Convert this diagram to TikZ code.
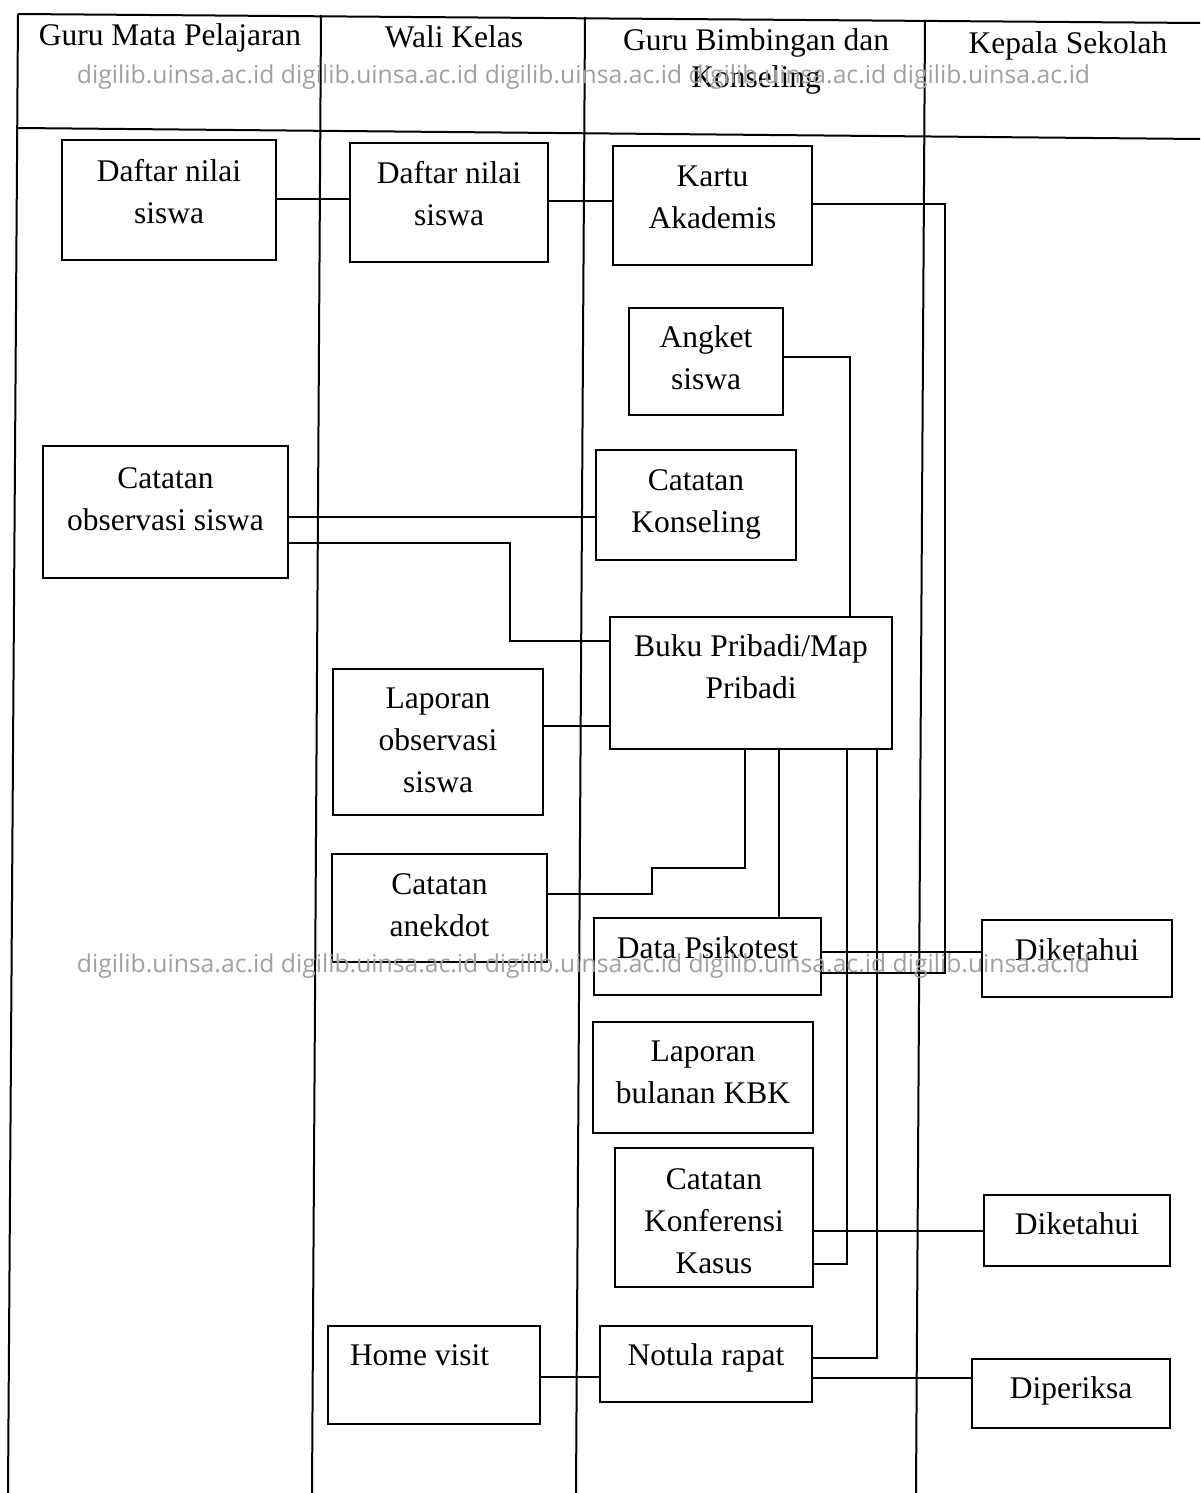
\documentclass[tikz,border=0pt]{standalone}
\usepackage{fontspec}
\setmainfont{Liberation Serif}
\newfontfamily\wmfont{Open Sans}
\definecolor{wmgray}{RGB}{160,160,160}
\tikzset{
%
  % For the lines of the lanes.
  lane/.style={
    line width=2pt},
%
  % For lines between boxes.
  link/.style={
    line width=2.2pt},
%
  % For boxes in general.
  box/.style={
    draw,
    line width=2.6pt,
    align=center,
    inner sep=0pt,
    text height=24pt,
    execute at begin node={\spaceskip=0.25em\relax}},
%
  % For the lane titles.
  head/.style={
    align=center,
    inner sep=0pt,
    text height=24pt,
    text depth=10pt,
    execute at begin node={\spaceskip=0.25em\relax}},
%
  % For the watermark.
  stamp/.style={
    wmgray,
    inner sep=0pt,
    font=\wmfont\fontsize{24.7}{24.7}\selectfont}
}

\begin{document}
\begin{tikzpicture}[x=1pt, y=-1pt,
                    font=\fontsize{31.5}{42}\selectfont]
  \useasboundingbox (0,0) rectangle (1200,1493);

  % lanes
  \draw[lane] (18,14) -- (1200,23);
  \draw[lane] (18,128) -- (1200,139);
  \draw[lane] (18,14) -- (8,1493);
  \draw[lane] (321,15) -- (312,1493);
  \draw[lane] (585,17) -- (576,1493);
  \draw[lane] (925,20) -- (916,1493);

  \node[head] (hGMP) at (170,39) {Guru Mata Pelajaran};
  \node[head] (hWK) at (454,41) {Wali Kelas};
  \node[head, text width=320pt, text depth=47pt] (hGBK) at (756,62)
    {Guru Bimbingan dan\\[-5pt]Konseling};
  \node[head] (hKS) at (1068,47) {Kepala Sekolah};

  % boxes
  \node[box, text width=214pt, minimum height=120pt, text depth=62pt]
    (dn1) at (169,200) {Daftar nilai\\siswa};
  \node[box, text width=245pt, minimum height=132pt, text depth=72pt]
    (cos) at (165.5,512) {Catatan\\observasi siswa};

  \node[box, text width=198pt, minimum height=119pt, text depth=62pt]
    (dn2) at (449,202.5) {Daftar nilai\\siswa};
  \node[box, text width=210pt, minimum height=146pt, text depth=92pt]
    (lap) at (438,742) {Laporan\\observasi\\siswa};
  \node[box, text width=215pt, minimum height=108pt, text depth=52pt]
    (ane) at (439.5,908) {Catatan\\anekdot};
  \node[box, align=left, text width=168pt, inner xsep=22pt,
        minimum height=98pt, text depth=44pt]
    (hv) at (434,1375) {Home visit};

  \node[box, text width=199pt, minimum height=119pt, text depth=62pt]
    (ka) at (712.5,205.5) {Kartu\\Akademis};
  \node[box, text width=154pt, minimum height=107pt, text depth=52pt]
    (ang) at (706,361.5) {Angket\\siswa};
  \node[box, text width=200pt, minimum height=110pt, text depth=54pt]
    (ck) at (696,505) {Catatan\\Konseling};
  \node[box, text width=282pt, minimum height=132pt, text depth=77pt]
    (bp) at (751,683) {Buku Pribadi/Map\\Pribadi};
  \node[box, text width=227pt, minimum height=77pt, text depth=20pt]
    (dp) at (707.5,956.5) {Data Psikotest};
  \node[box, text width=220pt, minimum height=111pt, text depth=56pt]
    (lb) at (703,1077.5) {Laporan\\bulanan KBK};
  \node[box, text width=198pt, minimum height=139pt, text depth=80pt]
    (ckk) at (714,1217.5) {Catatan\\Konferensi\\Kasus};
  \node[box, text width=212pt, minimum height=76pt, text depth=22pt]
    (nr) at (706,1364) {Notula rapat};

  \node[box, text width=190pt, minimum height=77pt, text depth=20pt]
    (dk1) at (1077,958.5) {Diketahui};
  \node[box, text width=186pt, minimum height=71pt, text depth=16pt]
    (dk2) at (1077,1230.5) {Diketahui};
  \node[box, text width=198pt, minimum height=69pt, text depth=14pt]
    (dpr) at (1071,1393.5) {Diperiksa};

  % links
  \draw[link] (dn1.east |- 0,199) -- (dn2.west |- 0,199);
  \draw[link] (dn2.east |- 0,201) -- (ka.west |- 0,201);
  \draw[link] (ka.east |- 0,204) -| (945,973) -- (dp.east |- 0,973);
  \draw[link] (ang.east |- 0,357) -| (bp.north -| 850,0);
  \draw[link] (cos.east |- 0,517) -- (ck.west |- 0,517);
  \draw[link] (cos.east |- 0,543) -| (510,641) -- (bp.west |- 0,641);
  \draw[link] (lap.east |- 0,726) -- (bp.west |- 0,726);
  \draw[link] (bp.south -| 745,0) |- (652,868) |- (ane.east |- 0,894);
  \draw[link] (bp.south -| 779,0) -- (dp.north -| 779,0);
  \draw[link] (bp.south -| 847,0) |- (ckk.east |- 0,1264);
  \draw[link] (bp.south -| 877,0) |- (nr.east |- 0,1358);
  \draw[link] (dp.east |- 0,952) -- (dk1.west |- 0,952);
  \draw[link] (ckk.east |- 0,1231) -- (dk2.west |- 0,1231);
  \draw[link] (hv.east |- 0,1377) -- (nr.west |- 0,1377);
  \draw[link] (nr.east |- 0,1378) -- (dpr.west |- 0,1378);

  % watermark
  \node[stamp] (wm1) at (583.5,77)
    {digilib.uinsa.ac.id digilib.uinsa.ac.id digilib.uinsa.ac.id digilib.uinsa.ac.id digilib.uinsa.ac.id};
  \node[stamp] (wm2) at (583.5,966)
    {digilib.uinsa.ac.id digilib.uinsa.ac.id digilib.uinsa.ac.id digilib.uinsa.ac.id digilib.uinsa.ac.id};
\end{tikzpicture}
\end{document}
